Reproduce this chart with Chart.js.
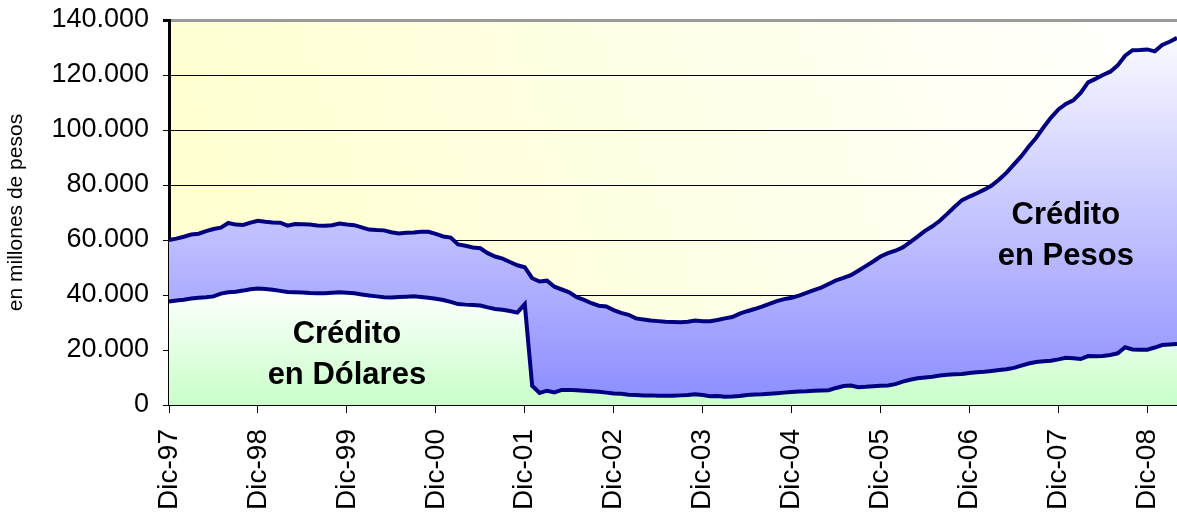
<!DOCTYPE html>
<html>
<head>
<meta charset="utf-8">
<title>Crédito en pesos y en dólares</title>
<script src="https://cdn.jsdelivr.net/npm/chart.js@4.4.1/dist/chart.umd.min.js"></script>
<style>
  body { margin: 0; background: #ffffff; }
  #chart-box { width: 1177px; height: 516px; }
</style>
</head>
<body>
<div id="chart-box"><canvas id="my-chart"></canvas></div>
<script>
'use strict';

// *** DATA ***

// meses desde Dic-97 hasta Abr-09
let mesesCortos = ['Ene', 'Feb', 'Mar', 'Abr', 'May', 'Jun', 'Jul', 'Ago', 'Sep', 'Oct', 'Nov', 'Dic'];
let primerMes = 11;   // Dic
let primerAnio = 1997;
let cantidadMeses = 137;

// credito en dolares (millones de pesos)
let creditoDolares = [
  37600, 38000, 38300, 38700, 39000, 39200, 39500, 40500, 41000, 41200, 41600, 42100,
  42400, 42200, 41900, 41500, 41100, 41000, 40900, 40700, 40600, 40600, 40800, 41000,
  40800, 40600, 40200, 39800, 39500, 39200, 39100, 39300, 39400, 39500, 39300, 39000,
  38600, 38200, 37500, 36700, 36500, 36400, 36200, 35500, 34900, 34600, 34200, 33600,
  36700, 7000, 4400, 5200, 4600, 5500, 5500, 5400, 5200, 5000, 4800, 4500,
  4200, 4100, 3700, 3600, 3500, 3500, 3400, 3400, 3400, 3500, 3600, 3900,
  3600, 3200, 3300, 3000, 3100, 3300, 3600, 3800, 3900, 4100, 4300, 4500,
  4700, 4900, 5000, 5200, 5300, 5400, 6200, 6900, 7100, 6500, 6600, 6800,
  7000, 7100, 7600, 8500, 9200, 9700, 10000, 10300, 10700, 11000, 11200, 11300,
  11600, 11900, 12100, 12400, 12700, 13000, 13500, 14300, 15100, 15600, 15900, 16100,
  16600, 17200, 17000, 16700, 17800, 17700, 17800, 18200, 18800, 21000, 20200, 20100,
  20100, 20900, 21800, 22000, 22200
];

// credito total = dolares + pesos (millones de pesos)
let creditoTotal = [
  60000, 60500, 61200, 62000, 62300, 63200, 64000, 64500, 66200, 65600, 65500, 66300,
  67000, 66600, 66400, 66300, 65200, 65800, 65700, 65600, 65300, 65200, 65400, 66000,
  65600, 65400, 64600, 63800, 63600, 63500, 62800, 62400, 62600, 62700, 63000, 63000,
  62200, 61300, 60900, 58400, 57900, 57300, 57000, 55200, 54000, 53200, 52000, 50800,
  50100, 46100, 44900, 45200, 43000, 42000, 41000, 39200, 38200, 37000, 36100, 35800,
  34500, 33500, 32800, 31500, 31100, 30700, 30500, 30300, 30200, 30100, 30300, 30700,
  30500, 30500, 30900, 31500, 32000, 33200, 34100, 34900, 35800, 36800, 37800, 38500,
  39000, 39800, 40800, 41800, 42700, 44000, 45300, 46200, 47200, 48800, 50500, 52200,
  54000, 55200, 56100, 57300, 59200, 61200, 63300, 65000, 67000, 69500, 72100, 74500,
  75800, 77000, 78300, 79800, 82000, 84500, 87500, 90500, 94000, 97200, 101000, 104500,
  107500, 109500, 110800, 113500, 117300, 118600, 120000, 121200, 123500, 127000, 129000, 129100,
  129300, 128600, 130900, 132100, 133500
];

let yTickLabels = ['0', '20.000', '40.000', '60.000', '80.000', '100.000', '120.000', '140.000'];

// rotulos sobre las areas (mes = indice de categoria, valor = linea base)
let rotulos = [
  { texto: ['Crédito', 'en Dólares'], mes: 24, valor: 22500 },
  { texto: ['Crédito', 'en Pesos'], mes: 121, valor: 65800 }
];

// *** HELPERS ***

let etiquetas = [];
for (let i = 0; i < cantidadMeses; i++) {
  let m = (primerMes + i) % 12;
  let anio = primerAnio + Math.floor((primerMes + i) / 12);
  etiquetas.push(`${mesesCortos[m]}-${String(anio % 100).padStart(2, '0')}`);
}

let fuente = "'Liberation Sans', Arial, sans-serif";

function gradienteVertical(context, arriba, abajo, valorArriba) {
  let chart = context.chart;
  let area = chart.chartArea;
  if (!area) {
    return abajo;
  }
  let yArriba = valorArriba === undefined ? area.top : chart.scales.y.getPixelForValue(valorArriba);
  let grad = chart.ctx.createLinearGradient(0, yArriba, 0, area.bottom);
  grad.addColorStop(0, arriba);
  grad.addColorStop(1, abajo);
  return grad;
}

// fondo amarillo del area de graficos
let fondoPlugin = {
  id: 'fondo',
  beforeDraw(chart) {
    let { ctx, chartArea } = chart;
    let grad = ctx.createLinearGradient(chartArea.left, chartArea.bottom, chartArea.right, chartArea.top);
    grad.addColorStop(0, '#ffffcc');
    grad.addColorStop(1, '#ffffff');
    ctx.save();
    ctx.fillStyle = grad;
    ctx.fillRect(chartArea.left, chartArea.top, chartArea.right - chartArea.left, chartArea.bottom - chartArea.top);
    ctx.restore();
  }
};

let rotulosPlugin = {
  id: 'rotulos',
  afterDatasetsDraw(chart) {
    let ctx = chart.ctx;
    ctx.save();
    ctx.font = `bold 31px ${fuente}`;
    ctx.fillStyle = '#000000';
    ctx.textAlign = 'center';
    ctx.textBaseline = 'alphabetic';
    for (let r of rotulos) {
      let x = chart.scales.x.getPixelForValue(r.mes);
      let y = chart.scales.y.getPixelForValue(r.valor);
      r.texto.forEach((linea, i) => ctx.fillText(linea, x, y + i * 41));
    }
    ctx.restore();
  }
};

// *** CHART ***

let canvasElem = document.getElementById('my-chart');

new Chart(canvasElem, {
  type: 'line',
  data: {
    labels: etiquetas,
    datasets: [
      {
        label: 'Crédito en Dólares',
        data: creditoDolares,
        borderColor: '#000080',
        borderWidth: 4,
        pointRadius: 0,
        tension: 0,
        fill: 'origin',
        backgroundColor: (c) => gradienteVertical(c, '#ffffff', '#c8ffc8', 43000)
      },
      {
        label: 'Crédito en Pesos',
        data: creditoTotal,
        borderColor: '#000080',
        borderWidth: 4,
        pointRadius: 0,
        tension: 0,
        fill: '-1',
        backgroundColor: (c) => gradienteVertical(c, '#ffffff', '#8c8cff')
      }
    ]
  },
  options: {
    responsive: true,
    maintainAspectRatio: false,
    animation: false,
    layout: { padding: { top: 20, right: 0, left: 0, bottom: 0 } },
    plugins: {
      legend: { display: false },
      tooltip: { enabled: false }
    },
    scales: {
      x: {
        z: 1,
        offset: false,
        afterFit: (s) => {
          s.height = 111;
          s.paddingLeft = 0;
          s.paddingRight = 0;
        },
        grid: {
          drawOnChartArea: false,
          drawTicks: true,
          tickLength: 8,
          color: (c) => (c.index % 12 === 0 ? '#000000' : 'rgba(0,0,0,0)'),
          lineWidth: 1
        },
        border: { display: true, color: '#000000', width: 2 },
        ticks: {
          autoSkip: false,
          minRotation: 90,
          maxRotation: 90,
          padding: 16,
          color: '#000000',
          font: { family: fuente, size: 28 },
          callback: function (val, index) {
            return index % 12 === 0 ? this.getLabelForValue(val) : '';
          }
        }
      },
      y: {
        min: 0,
        max: 140000,
        afterFit: (s) => {
          s.width = 169;
          s.paddingTop = 0;
          s.paddingBottom = 0;
        },
        grid: {
          color: (c) => (c.tick && c.tick.value === 140000 ? '#9a9a9a' : '#000000'),
          lineWidth: (c) => (c.tick && c.tick.value === 140000 ? 3 : 1),
          tickLength: 6,
          tickColor: '#000000'
        },
        border: { display: true, color: '#000000', width: 3 },
        ticks: {
          stepSize: 20000,
          padding: 14,
          color: '#000000',
          font: { family: fuente, size: 27 },
          callback: (val, index) => yTickLabels[index]
        },
        title: {
          display: true,
          text: 'en millones de pesos',
          color: '#000000',
          font: { family: fuente, size: 21 },
          padding: { top: 4, bottom: 0 }
        }
      }
    }
  },
  plugins: [fondoPlugin, rotulosPlugin]
});
</script>
</body>
</html>
